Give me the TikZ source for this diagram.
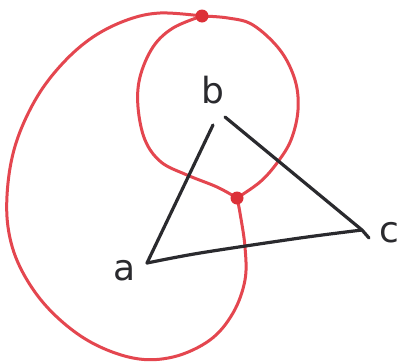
\documentclass[tikz,border=0pt]{standalone}
\usepackage{fontspec}
\setmainfont{DejaVu Sans}
\begin{document}
\begin{tikzpicture}[x=1pt,y=-1pt,
  redline/.style={draw=curvered,line width=3pt,line cap=round,line join=round},
  blackline/.style={draw=inkblack,line width=3.2pt,line cap=round,line join=round},
  dot/.style={circle,fill=dotred,inner sep=0pt,minimum size=13pt},
  lab/.style={text=inkblack,font=\fontsize{36}{36}\selectfont,inner sep=0pt}]
\definecolor{curvered}{HTML}{E4464F}
\definecolor{dotred}{HTML}{DC3038}
\definecolor{inkblack}{HTML}{2A2A2E}
\useasboundingbox[fill=white] (0,0) rectangle (410,362);
% junction points
\coordinate (T) at (202,16);
\coordinate (B) at (237,198);
% triangle vertices
\coordinate (A) at (147,263);
\coordinate (Bl) at (213,125);
\coordinate (Br) at (225,117);
\coordinate (C) at (362,230);
\coordinate (Ch) at (369,238);
% small loop
\draw[redline] plot[smooth,tension=0.6] coordinates {(T) (228,18) (253,25) (280,50) (295,80) (298,110) (291,140) (277,163) (260,182) (B)};
\draw[redline] plot[smooth,tension=0.6] coordinates {(B) (217,187) (187,175) (161,162) (145,140) (138,107) (140,77) (153,47) (173,28) (T)};
% big loop
\draw[redline] plot[smooth,tension=0.6] coordinates {(T) (160,13) (127,20) (93,37) (63,63) (37,97) (17,140) (8,183) (8,227) (20,267) (47,307) (87,340) (133,358) (173,357) (210,340) (233,313) (245,280) (245,247) (240,213) (B)};
% triangle
\draw[blackline] (Bl) -- (A);
\draw[blackline] plot[smooth,tension=0.5] coordinates {(A) (200,253) (300,238) (C)};
\draw[blackline] (Br) -- (C) -- (Ch);
% dots
\node[dot] (top) at (T) {};
\node[dot] (bot) at (B) {};
% labels
\node[lab] (a) at (125,271) {a};
\node[lab] (b) at (213,90) {b};
\node[lab] (c) at (389,233) {c};
\end{tikzpicture}
\end{document}
